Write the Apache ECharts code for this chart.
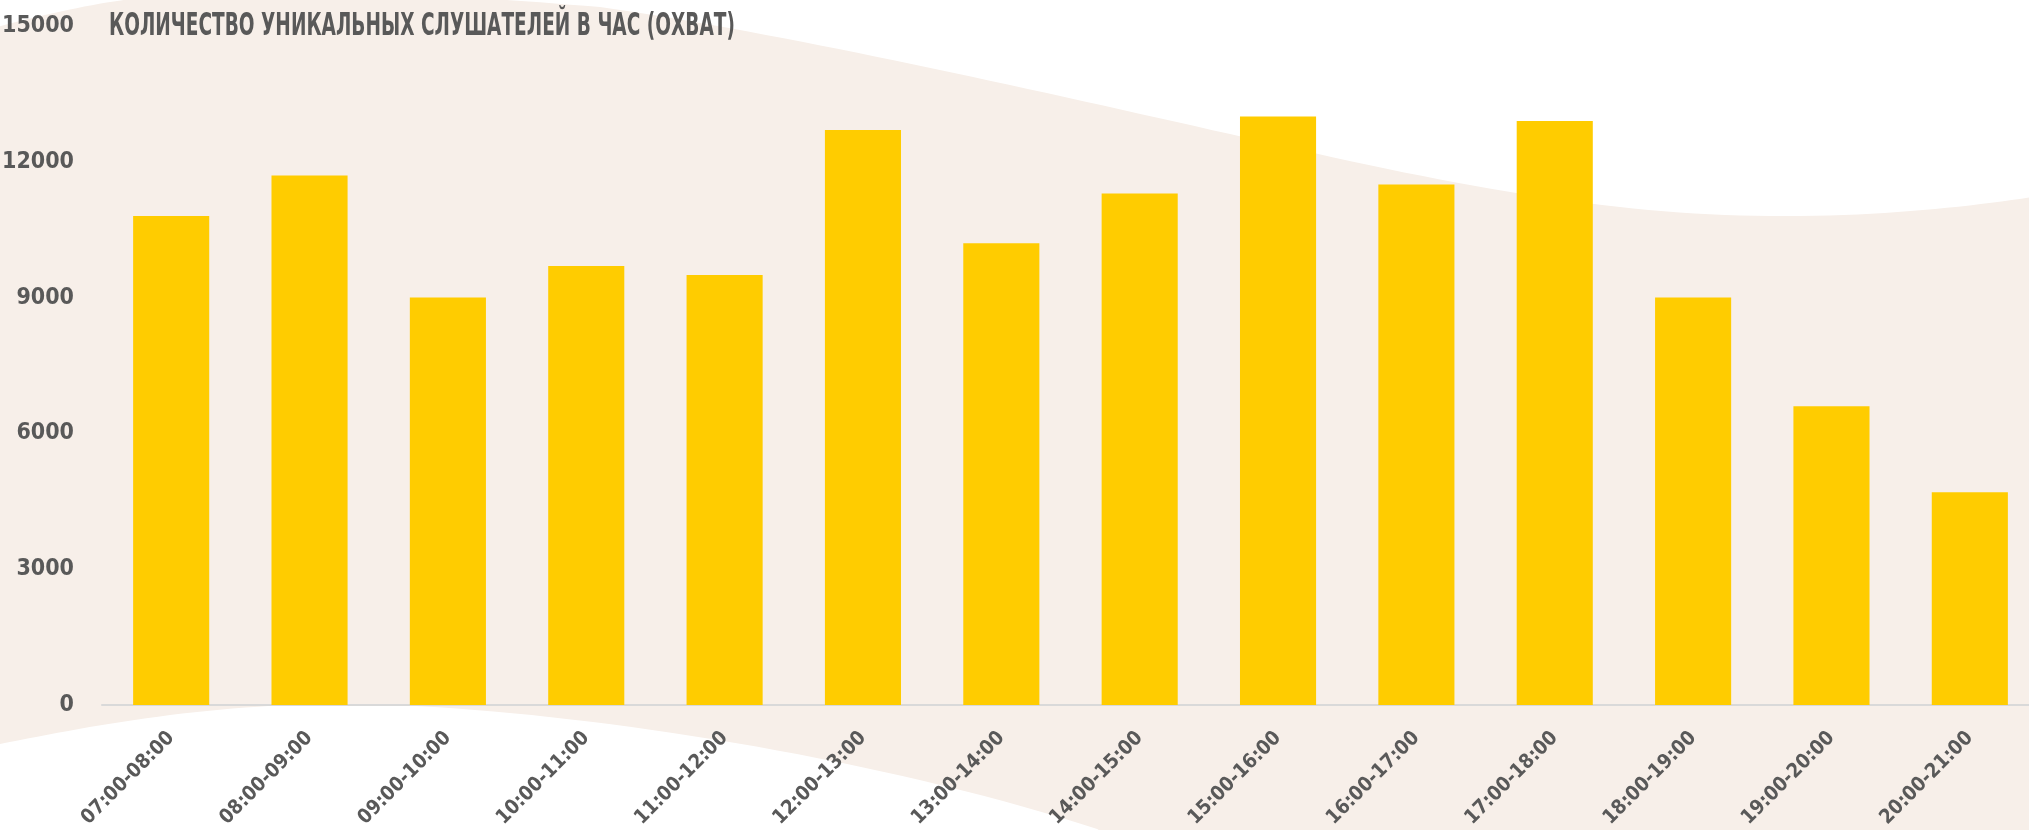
<!DOCTYPE html>
<html>
<head>
<meta charset="utf-8">
<script src="https://cdn.jsdelivr.net/npm/echarts@6/dist/echarts.min.js"></script>
<style>
html,body{margin:0;padding:0;background:#ffffff;}
#chart{width:2029px;height:830px;}
</style>
</head>
<body>
<div id="chart"></div>
<script>
const categories = ['07:00-08:00','08:00-09:00','09:00-10:00','10:00-11:00','11:00-12:00','12:00-13:00','13:00-14:00','14:00-15:00','15:00-16:00','16:00-17:00','17:00-18:00','18:00-19:00','19:00-20:00','20:00-21:00'];
const listeners = [10800, 11700, 9000, 9700, 9500, 12700, 10200, 11300, 13000, 11500, 12900, 9000, 6600, 4700];
const yTicks = [0, 3000, 6000, 9000, 12000, 15000];
const titleText = 'КОЛИЧЕСТВО УНИКАЛЬНЫХ СЛУШАТЕЛЕЙ В ЧАС (ОХВАТ)';

const FONT = '"DejaVu Sans Condensed", "DejaVu Sans", sans-serif';

// decorative background wave (pixel geometry, not data)
function bezierPts(p0, p1, p2, p3, n) {
  const out = [];
  for (let i = 1; i <= n; i++) {
    const t = i / n, u = 1 - t;
    out.push([
      u*u*u*p0[0] + 3*u*u*t*p1[0] + 3*u*t*t*p2[0] + t*t*t*p3[0],
      u*u*u*p0[1] + 3*u*u*t*p1[1] + 3*u*t*t*p2[1] + t*t*t*p3[1]
    ]);
  }
  return out;
}
function wavePoints() {
  let pts = [[-10, 29]];
  pts = pts.concat(bezierPts([-10,29],[40,15],[100,2],[140,-2],20));
  pts = pts.concat(bezierPts([140,-2],[300,-15],[450,-5],[600,7],30));
  pts = pts.concat(bezierPts([600,7],[800,35],[1100,105],[1314,153],40));
  pts = pts.concat(bezierPts([1314,153],[1500,195],[1650,218],[1800,216],30));
  pts = pts.concat(bezierPts([1800,216],[1900,215],[1980,205],[2040,196],20));
  pts.push([2040, 840]);
  pts.push([1115, 840]);
  pts = pts.concat(bezierPts([1115,835],[880,755],[540,704],[340,704],40));
  pts = pts.concat(bezierPts([340,704],[200,704],[80,728],[-10,746],30));
  return pts;
}

const chart = echarts.init(document.getElementById('chart'), null, {renderer: 'canvas'});
chart.setOption({
  backgroundColor: '#ffffff',
  animation: false,
  graphic: [{
    type: 'polygon',
    z: -10,
    silent: true,
    shape: {points: wavePoints()},
    style: {fill: '#f7efe9'}
  }, {
    type: 'text',
    x: 109,
    y: 27,
    scaleX: 0.644,
    silent: true,
    style: {
      text: titleText,
      fill: '#595959',
      font: 'bold 32px ' + FONT,
      verticalAlign: 'middle',
      align: 'left'
    }
  }],
  grid: {left: 102, width: 1937, top: 26, bottom: 125, containLabel: false, outerBoundsMode: 'none'},
  xAxis: {
    type: 'category',
    data: categories,
    axisLine: {show: true, lineStyle: {color: '#d9d9d9', width: 2}},
    axisTick: {show: false},
    axisLabel: {rotate: 45, margin: 30, interval: 0, fontFamily: FONT, fontSize: 20, fontWeight: 'bold', color: '#595959'}
  },
  yAxis: {
    type: 'value',
    min: yTicks[0],
    max: yTicks[yTicks.length - 1],
    interval: yTicks[1] - yTicks[0],
    axisLine: {show: false},
    axisTick: {show: false},
    splitLine: {show: false},
    axisLabel: {margin: 28, fontFamily: FONT, fontSize: 23, fontWeight: 'bold', color: '#595959',
      formatter: function (v) { return String(v); }}
  },
  series: [{
    type: 'bar',
    data: listeners,
    barWidth: '55%',
    itemStyle: {color: '#ffcc00'}
  }]
});
</script>
</body>
</html>
